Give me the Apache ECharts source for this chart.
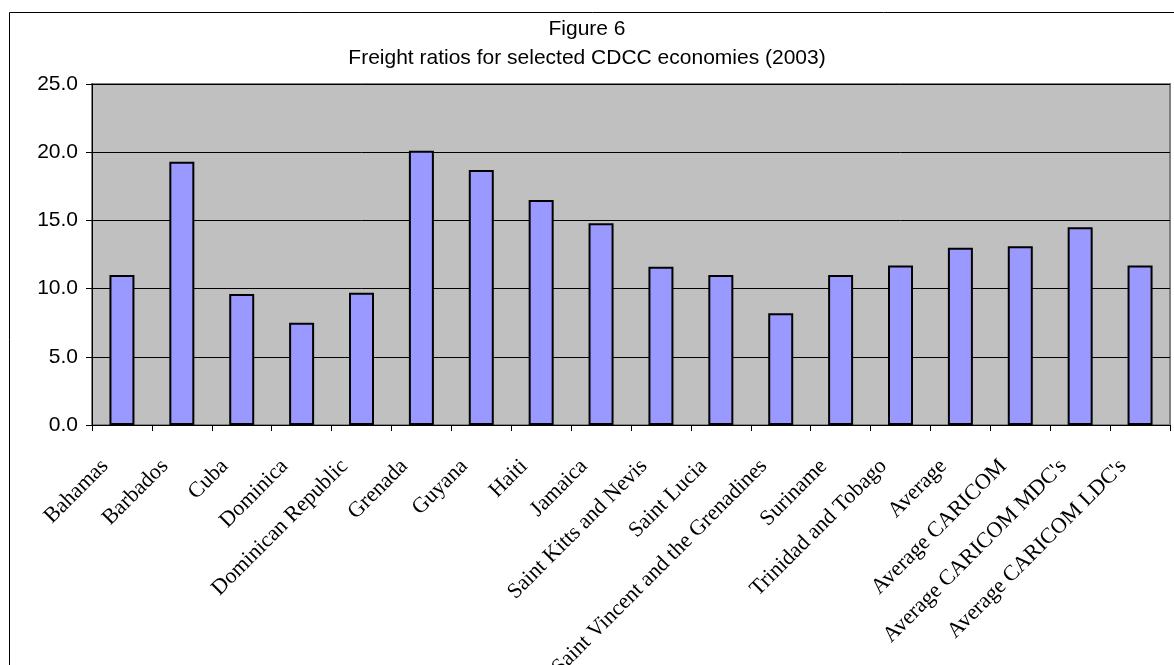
<!DOCTYPE html>
<html>
<head>
<meta charset="utf-8">
<script src="https://cdn.jsdelivr.net/npm/echarts@6/dist/echarts.min.js"></script>
<style>
html,body{margin:0;padding:0;background:#fff;}
#chart{width:1174px;height:665px;}
</style>
</head>
<body>
<div id="chart"></div>
<script>
const categories = ["Bahamas","Barbados","Cuba","Dominica","Dominican Republic","Grenada","Guyana","Haiti","Jamaica","Saint Kitts and Nevis","Saint Lucia","Saint Vincent and the Grenadines","Suriname","Trinidad and Tobago","Average","Average CARICOM","Average CARICOM MDC's","Average CARICOM LDC's"];
const freightRatios = [11.0,19.3,9.6,7.5,9.7,20.1,18.7,16.5,14.8,11.6,11.0,8.2,11.0,11.7,13.0,13.1,14.5,11.7];
const titleLines = ["Figure 6","Freight ratios for selected CDCC economies (2003)"];
const yMin = 0, yMax = 25, yStep = 5;

const chart = echarts.init(document.getElementById('chart'));
chart.setOption({
  animation: false,
  backgroundColor: '#ffffff',
  title: {
    text: titleLines.join('\n'),
    left: 'center',
    top: 10,
    textStyle: {fontFamily: 'Liberation Sans, Arial, sans-serif', fontSize: 21, fontWeight: 'normal', color: '#000', lineHeight: 29}
  },
  graphic: [{
    type: 'rect', z: -10, silent: true,
    shape: {x: 9.5, y: 12.5, width: 1300, height: 800},
    style: {fill: 'none', stroke: '#000', lineWidth: 1}
  }],
  grid: {
    left: 92, right: 4, top: 84, bottom: 240,
    show: true, backgroundColor: '#C0C0C0', borderColor: '#808080', borderWidth: 2,
    containLabel: false, outerBoundsMode: 'none'
  },
  xAxis: {
    type: 'category',
    data: categories,
    boundaryGap: true,
    axisLine: {show: true, lineStyle: {color: '#000', width: 1}},
    axisTick: {show: true, inside: false, length: 6, alignWithLabel: false, interval: 0, lineStyle: {color: '#000'}},
    axisLabel: {
      interval: 0, rotate: 45, margin: 21, verticalAlign: 'middle', padding: [0, 24, 0, 0],
      fontFamily: 'Liberation Serif, Times New Roman, serif', fontSize: 22, color: '#000'
    },
    splitLine: {show: false}
  },
  yAxis: {
    type: 'value',
    min: yMin, max: yMax, interval: yStep,
    axisLine: {show: true, lineStyle: {color: '#000', width: 1}},
    axisTick: {show: true, length: 6, lineStyle: {color: '#000'}},
    axisLabel: {
      formatter: v => v.toFixed(1), margin: 14,
      fontFamily: 'Liberation Sans, Arial, sans-serif', fontSize: 21, color: '#000'
    },
    splitLine: {show: true, lineStyle: {color: '#000', width: 1}}
  },
  series: [{
    type: 'bar',
    data: freightRatios,
    barWidth: 25,
    itemStyle: {color: '#9999FF', borderColor: '#000', borderWidth: 2},
    emphasis: {disabled: true}
  }]
});
</script>
</body>
</html>
